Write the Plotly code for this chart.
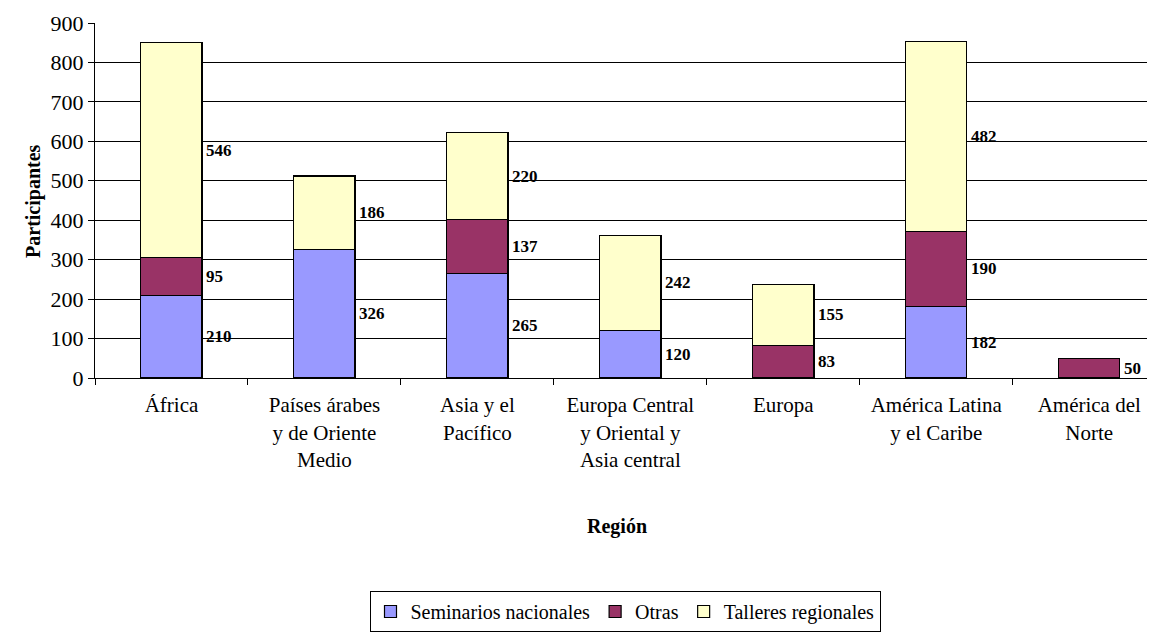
import plotly.graph_objects as go

categories = ["África", "Países árabes<br>y de Oriente<br>Medio", "Asia y el<br>Pacífico",
              "Europa Central<br>y Oriental y<br>Asia central", "Europa",
              "América Latina<br>y el Caribe", "América del<br>Norte"]
seminarios = [210, 326, 265, 120, 0, 182, 0]
otras = [95, 0, 137, 0, 83, 190, 50]
talleres = [546, 186, 220, 242, 155, 482, 0]

series = [("Seminarios nacionales", seminarios, "#9999FF"),
          ("Otras", otras, "#993366"),
          ("Talleres regionales", talleres, "#FFFFCC")]

FONT = "Liberation Serif, Times New Roman, serif"
fig = go.Figure()
for name, vals, col in series:
    fig.add_trace(go.Bar(x=categories, y=vals, name=name, width=0.4,
                         marker=dict(color=col, line=dict(color="black", width=1.2))))

annotations = []
base = [0] * len(categories)
for name, vals, col in series:
    for i, v in enumerate(vals):
        if v > 0:
            annotations.append(dict(x=categories[i], y=base[i] + v / 2, xref="x", yref="y",
                                    text=f"<b>{v}</b>", showarrow=False, xanchor="left",
                                    xshift=33, font=dict(family=FONT, size=17, color="black")))
        base[i] += v

annotations.append(dict(x=-0.0708, y=0.5, xref="paper", yref="paper", text="<b>Participantes</b>",
                        textangle=-90, showarrow=False, font=dict(family=FONT, size=20, color="black")))
annotations.append(dict(x=0.492, y=-0.456, xref="paper", yref="paper", text="<b>Región</b>",
                        showarrow=False, font=dict(family=FONT, size=20, color="black")))

fig.update_layout(
    barmode="stack", width=1147, height=624,
    margin=dict(l=87, r=0, t=15, b=254, autoexpand=False),
    plot_bgcolor="white", paper_bgcolor="white",
    font=dict(family=FONT, size=20, color="black"),
    annotations=annotations,
    legend=dict(orientation="h", x=0.5, xanchor="center", y=-0.6, yanchor="top",
                bordercolor="black", borderwidth=1, font=dict(family=FONT, size=20),
                itemwidth=30, traceorder="normal"),
    showlegend=True,
)
fig.update_xaxes(type="category", range=[-0.5, 6.43], tickson="boundaries", ticks="outside",
                 ticklen=6, tickcolor="black", showline=True, linecolor="black", linewidth=1,
                 showgrid=False, ticklabelstandoff=8, automargin=False,
                 tickfont=dict(family=FONT, size=21))
fig.update_yaxes(range=[0, 900], dtick=100, ticks="outside", ticklen=6, tickcolor="black",
                 showline=True, linecolor="black", linewidth=1, showgrid=True,
                 gridcolor="black", gridwidth=1, zeroline=False, automargin=False,
                 tickfont=dict(family=FONT, size=22))

fig.write_html("out.html")
